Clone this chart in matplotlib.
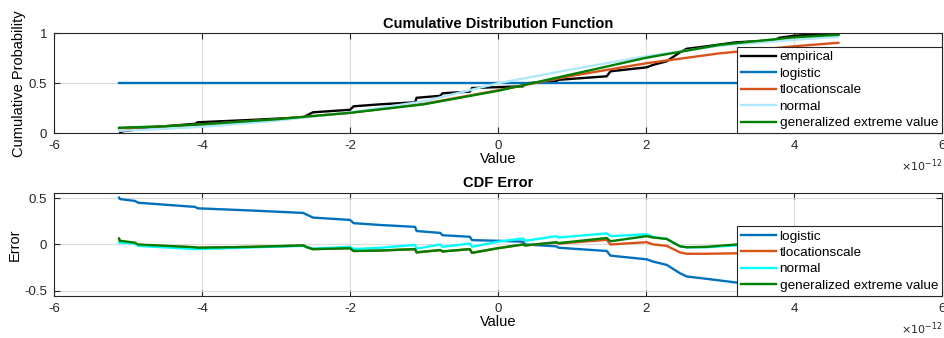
import numpy as np
import matplotlib
matplotlib.use("Agg")
import matplotlib.pyplot as plt

# x values in units of 1e-12
emp_x = [-5.11, -5.08, -4.91, -4.86, -4.09, -4.06, -3.3, -2.63, -2.58, -2.50, -2.0, -1.95,
         -1.59, -1.12, -1.10, -0.78, -0.75, -0.38, -0.35, 0.34, 0.37, 0.79, 0.82, 1.47,
         1.52, 2.01, 2.1, 2.28, 2.46, 2.55, 2.82, 3.22, 3.74, 3.8, 4.0, 4.2, 4.6]
emp_y = [0.0, 0.02, 0.035, 0.05, 0.095, 0.11, 0.135, 0.16, 0.18, 0.21, 0.235, 0.27,
         0.29, 0.31, 0.355, 0.375, 0.40, 0.417, 0.453, 0.47, 0.50, 0.52, 0.535, 0.57,
         0.62, 0.66, 0.685, 0.72, 0.81, 0.845, 0.87, 0.91, 0.93, 0.955, 0.975, 0.985, 0.99]

fit_x = [-5.12, -4.5, -4.0, -3.0, -2.0, -1.0, 0.0, 1.0, 2.0, 3.0, 4.0, 4.6]
logistic_y = [0.5, 0.5, 0.5, 0.5, 0.5, 0.5, 0.5, 0.5, 0.5, 0.5, 0.5, 0.5]
tls_y = [0.05, 0.07, 0.09, 0.14, 0.205, 0.295, 0.43, 0.575, 0.70, 0.80, 0.87, 0.905]
normal_y = [0.025, 0.045, 0.065, 0.125, 0.21, 0.32, 0.50, 0.64, 0.77, 0.875, 0.935, 0.965]
gev_y = [0.056, 0.07, 0.09, 0.14, 0.205, 0.29, 0.425, 0.59, 0.755, 0.885, 0.96, 0.985]

err_x = [-5.12, -5.11, -4.91, -4.86, -4.09, -4.06, -3.3, -2.63, -2.58, -2.50, -2.0, -1.95,
         -1.59, -1.12, -1.10, -0.78, -0.75, -0.38, -0.35, 0.0, 0.34, 0.37, 0.79, 0.82,
         1.47, 1.52, 2.01, 2.1, 2.28, 2.46, 2.55, 2.82, 3.22, 3.74, 4.0, 4.6]
err_logistic = [0.505, 0.49, 0.47, 0.45, 0.405, 0.39, 0.365, 0.34, 0.32, 0.29, 0.265, 0.23,
                0.21, 0.19, 0.145, 0.125, 0.10, 0.083, 0.047, 0.04, 0.03, 0.0, -0.02, -0.035,
                -0.07, -0.12, -0.16, -0.185, -0.22, -0.31, -0.345, -0.37, -0.41, -0.44, -0.475, -0.49]
err_tls = [0.055, 0.035, 0.015, -0.005, -0.03, -0.035, -0.025, -0.012, -0.03, -0.05, -0.04, -0.07,
           -0.065, -0.05, -0.085, -0.06, -0.075, -0.05, -0.09, -0.04, 0.0, -0.01, 0.02, 0.01,
           0.05, 0.0, 0.025, 0.0, -0.015, -0.085, -0.1, -0.1, -0.095, -0.09, -0.1, -0.085]
err_normal = [0.02, 0.02, 0.01, -0.015, -0.05, -0.05, -0.03, -0.015, -0.03, -0.045, -0.025, -0.05,
              -0.035, -0.005, -0.045, 0.0, -0.025, 0.01, -0.025, 0.03, 0.065, 0.04, 0.09, 0.075,
              0.12, 0.09, 0.11, 0.08, 0.06, -0.02, -0.03, -0.03, -0.01, 0.0, -0.04, -0.025]
err_gev = [0.065, 0.04, 0.02, 0.0, -0.03, -0.035, -0.025, -0.01, -0.03, -0.05, -0.04, -0.07,
           -0.065, -0.05, -0.085, -0.06, -0.075, -0.05, -0.09, -0.04, 0.0, -0.01, 0.025, 0.015,
           0.07, 0.035, 0.09, 0.075, 0.06, -0.02, -0.03, -0.025, 0.0, 0.0, -0.01, -0.005]

c_log = "#0072BD"
c_tls = "#D95319"
c_norm_top = "#AEE8FA"
c_norm_err = "#00FFFF"
c_gev = "#008000"

plt.rcParams["font.family"] = ["Liberation Sans", "DejaVu Sans"]
plt.rcParams["axes.unicode_minus"] = False

fig = plt.figure(figsize=(9.45, 3.38), dpi=100)
ax1 = fig.add_axes([0.0571, 0.6056, 0.9397, 0.2959])
ax2 = fig.add_axes([0.0571, 0.1243, 0.9397, 0.3047])


def style(ax):
    ax.set_xlim(-6, 6)
    ax.set_xticks([-6, -4, -2, 0, 2, 4, 6])
    ax.grid(True, color="#DCDCDC", lw=0.8)
    ax.set_axisbelow(True)
    for s in ax.spines.values():
        s.set_color("#262626")
        s.set_linewidth(0.8)
    ax.tick_params(direction="in", colors="#262626", length=4, width=0.8,
                   top=True, right=True, labelsize=9.5, pad=5)
    ax.set_xlabel("Value", fontsize=10.5, labelpad=0)
    ax.annotate(r"$\times10^{-12}$", xy=(1.0, 0.0), xycoords="axes fraction",
                xytext=(0, -17.5), textcoords="offset points",
                ha="right", va="top", fontsize=8, color="#262626")


def legend(ax):
    leg = ax.legend(loc="lower right", fontsize=9.7, frameon=True, fancybox=False,
                    framealpha=1, edgecolor="#262626", borderpad=0.3, labelspacing=0.3,
                    handlelength=2.6, handletextpad=0.25, borderaxespad=0.0)
    leg.get_frame().set_linewidth(0.8)


lw = 1.7
ax1.plot(emp_x, emp_y, color="black", lw=lw, label="empirical")
ax1.plot(fit_x, logistic_y, color=c_log, lw=lw, label="logistic")
ax1.plot(fit_x, tls_y, color=c_tls, lw=lw, label="tlocationscale")
ax1.plot(fit_x, normal_y, color=c_norm_top, lw=lw, label="normal")
ax1.plot(fit_x, gev_y, color=c_gev, lw=lw, label="generalized extreme value")
style(ax1)
ax1.set_ylim(0, 1)
ax1.set_yticks([0, 0.5, 1])
ax1.set_yticklabels(["0", "0.5", "1"])
ax1.set_ylabel("Cumulative Probability", fontsize=10.5, labelpad=2)
ax1.set_title("Cumulative Distribution Function", fontsize=10.5, fontweight="bold", pad=4)
legend(ax1)

ax2.plot(err_x, err_logistic, color=c_log, lw=lw, label="logistic")
ax2.plot(err_x, err_tls, color=c_tls, lw=lw, label="tlocationscale")
ax2.plot(err_x, err_normal, color=c_norm_err, lw=lw, label="normal")
ax2.plot(err_x, err_gev, color=c_gev, lw=lw, label="generalized extreme value")
style(ax2)
ax2.set_ylim(-0.555, 0.555)
ax2.set_yticks([-0.5, 0, 0.5])
ax2.set_yticklabels(["-0.5", "0", "0.5"])
ax2.set_ylabel("Error", fontsize=10.5, labelpad=2)
ax2.set_title("CDF Error", fontsize=10.5, fontweight="bold", pad=4)
legend(ax2)

fig.savefig("out.png", dpi=100)
